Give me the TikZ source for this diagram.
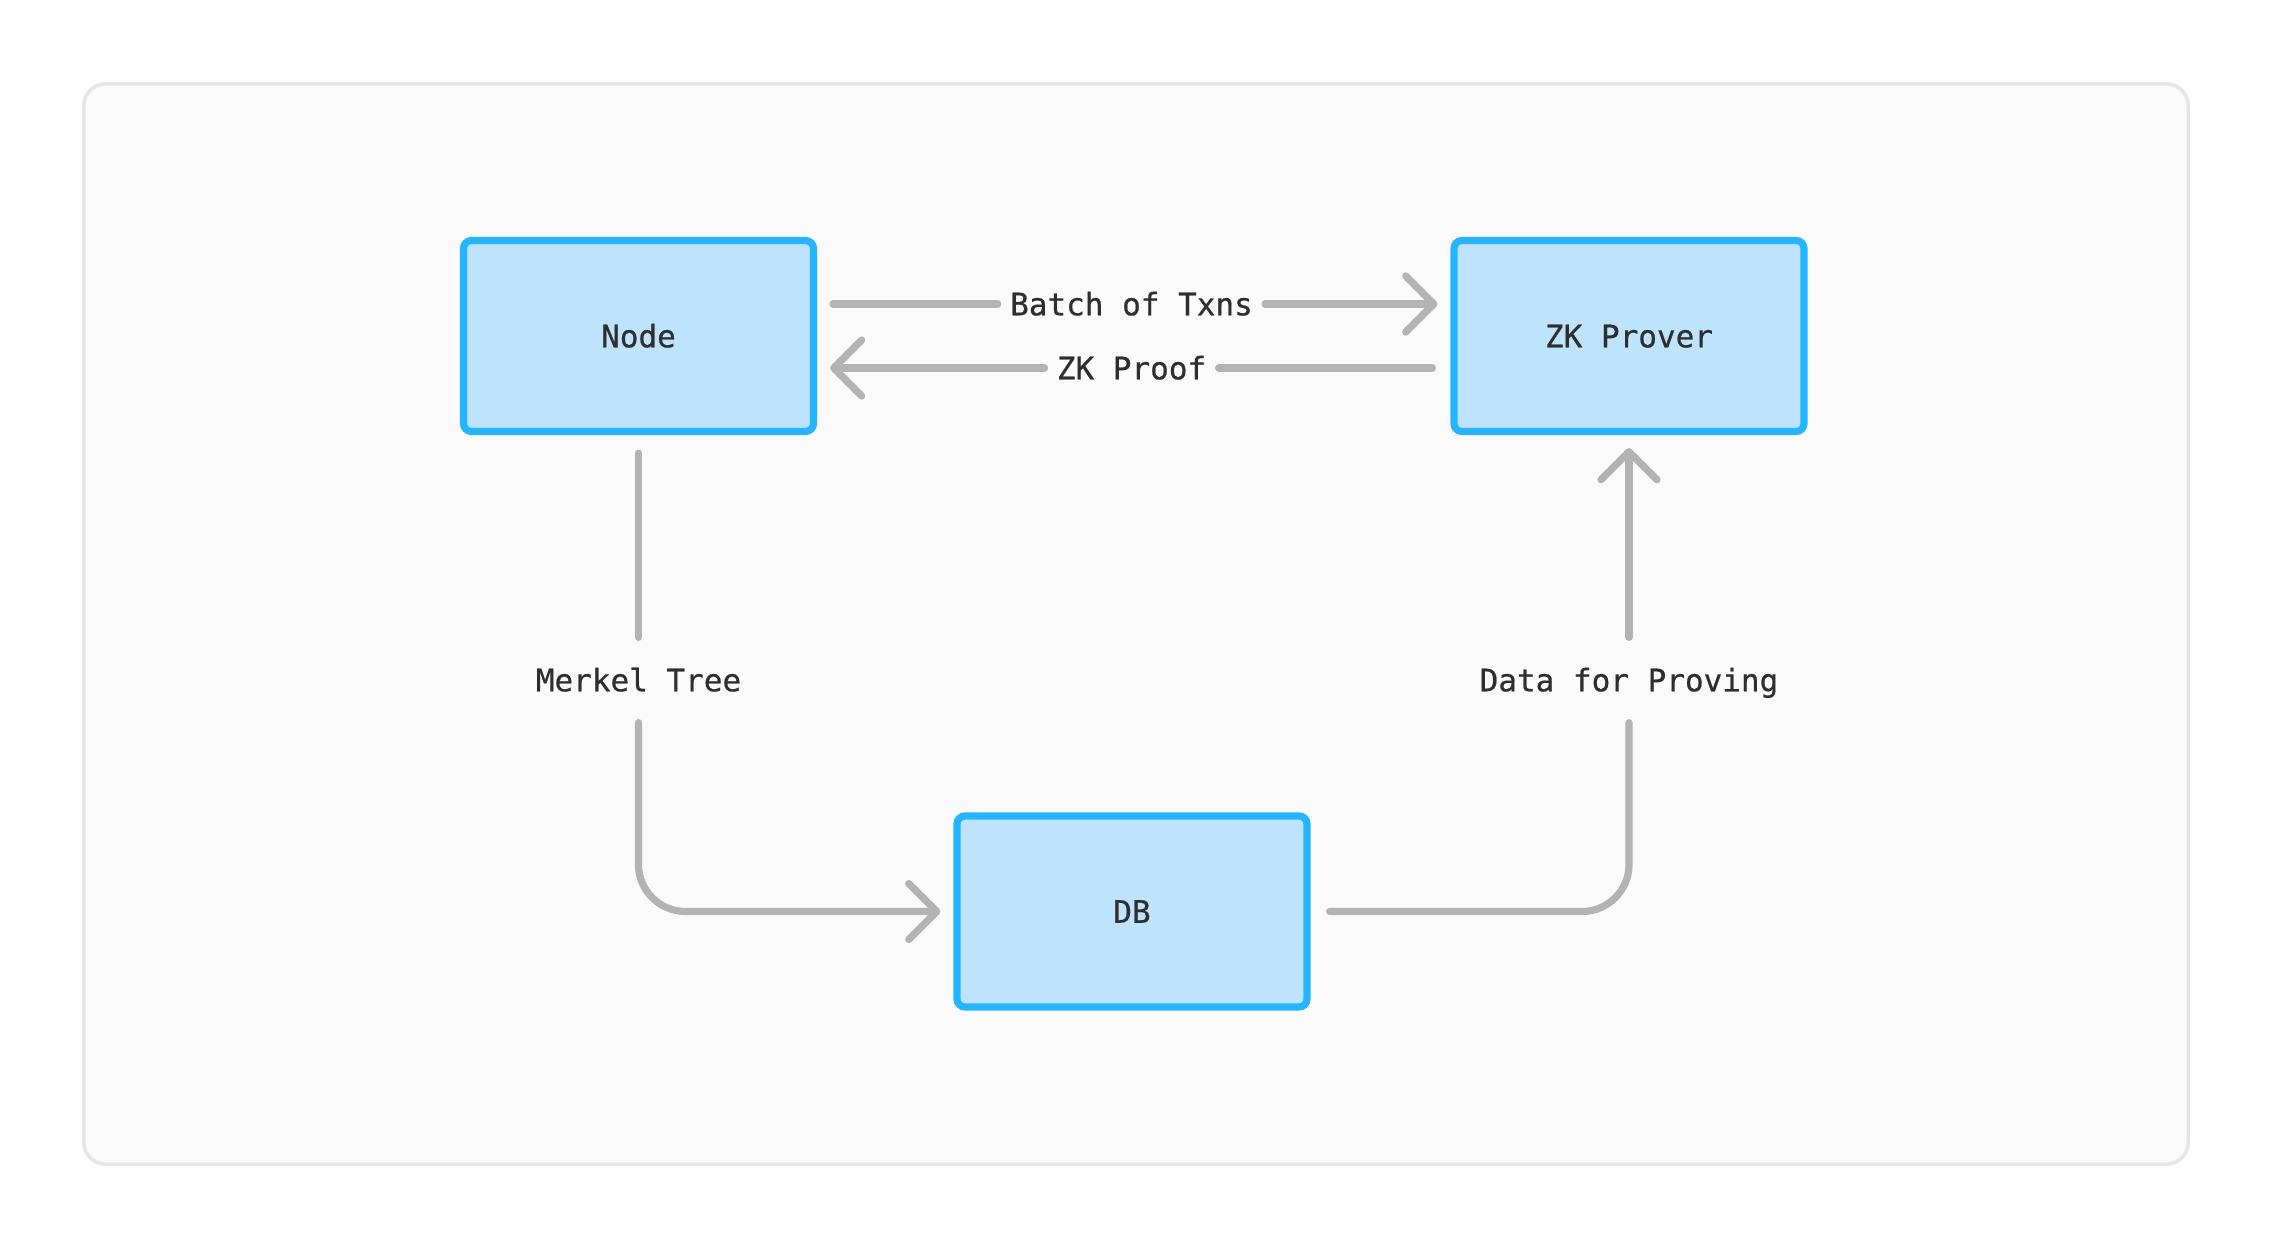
\documentclass[tikz,border=0pt]{standalone}
\usepackage{fontspec}
\setmonofont{DejaVu Sans Mono}[FakeBold=0.6]
\usetikzlibrary{arrows.meta}
\definecolor{boxfill}{HTML}{BEE3FD}
\definecolor{boxline}{HTML}{24B5FE}
\definecolor{conngray}{HTML}{B3B3B3}
\definecolor{txt}{HTML}{2E2E2E}
\definecolor{framefill}{HTML}{FAFAFA}
\definecolor{frameline}{HTML}{E5E5E5}
\begin{document}
\begin{tikzpicture}[x=0.5pt,y=-0.5pt,
  lbl/.style={font=\ttfamily\fontsize{15.5pt}{18pt}\selectfont, text=txt, text height=11.3pt, text depth=0pt, inner sep=0pt},
  box/.style={lbl, draw=boxline, fill=boxfill, line width=3.6pt, rounded corners=4pt, minimum width=175pt, minimum height=95.5pt},
  hlbl/.style={lbl, inner xsep=6pt},
  vlbl/.style={lbl, minimum height=42.25pt},
  conn/.style={draw=conngray, line width=3.6pt, line cap=round, line join=round},
  tipped/.style={conn, -{Straight Barb[length=14pt,width=28pt,line cap=round,line join=round]}, shorten >=6.5pt},
]
\fill[white] (0,0) rectangle (2272,1248);
\useasboundingbox (0,0) rectangle (2272,1248);
\draw[frameline, fill=framefill, line width=1.75pt, rounded corners=11pt] (83.75,83.75) rectangle (2188.25,1164.25);

\node[box] (node) at (638.5,336) {Node};
\node[box] (zk) at (1629,336) {ZK Prover};
\node[box] (db) at (1132,911.5) {DB};

\node[hlbl] (bt) at (1131.5,304) {Batch of Txns};
\node[hlbl] (zp) at (1131.5,368) {ZK Proof};
\node[vlbl] (mt) at (638.5,680) {Merkel Tree};
\node[vlbl] (dp) at (1629,680) {Data for Proving};

\draw[conn, shorten <=8pt] ([yshift=16pt]node.east) -- (bt.west);
\draw[tipped] (bt.east) -- ([yshift=16pt]zk.west);
\draw[conn, shorten <=9pt] ([yshift=-16pt]zk.west) -- (zp.east);
\draw[tipped] (zp.west) -- ([yshift=-16pt]node.east);

\draw[conn, shorten <=9pt] (node.south) -- (mt.north);
\draw[tipped, rounded corners=23.5pt] (mt.south) |- (db.west);

\draw[conn, shorten <=9.5pt, rounded corners=23.5pt] (db.east) -| (dp.south);
\draw[tipped] (dp.north) -- (zk.south);
\end{tikzpicture}
\end{document}
